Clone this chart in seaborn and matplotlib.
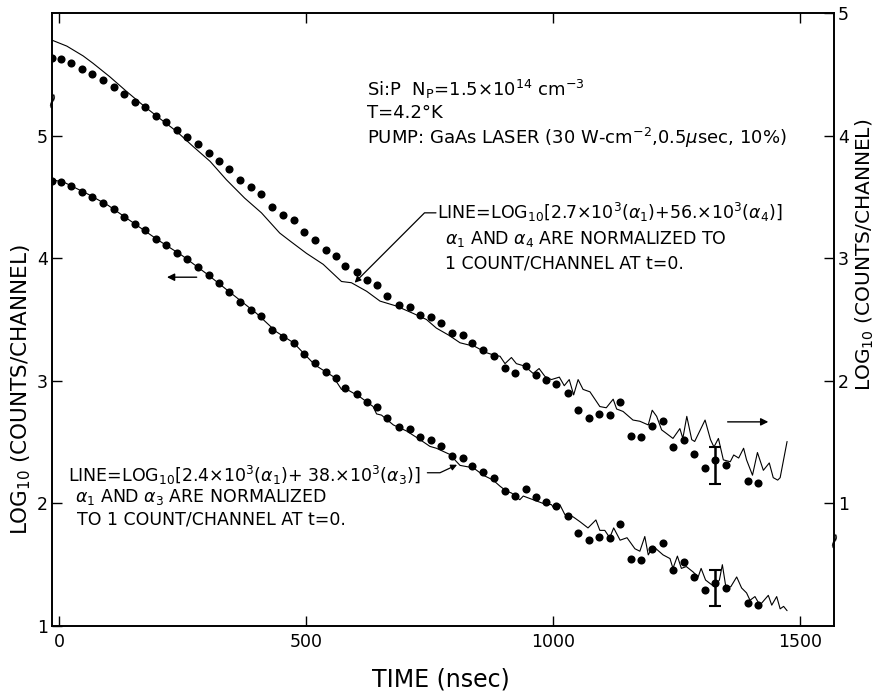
import numpy as np
import pandas as pd
import matplotlib
matplotlib.use("Agg")
import matplotlib.pyplot as plt
import seaborn as sns

# ---------------- data ----------------
# measured points (same data plotted against both axes)
dot_time = [-14, 4, 24, 46, 67, 89, 111, 132, 154, 174, 196, 217, 239, 260, 282,
            304, 325, 345, 367, 389, 410, 432, 453, 475, 496, 518, 540, 560, 580,
            603, 623, 644, 665, 688, 710, 731, 753, 774, 796, 817, 837, 859, 880,
            902, 923, 945, 965, 986, 1007, 1030, 1051, 1073, 1094, 1115, 1136,
            1158, 1179, 1201, 1222, 1243, 1265, 1286, 1308, 1328, 1351, 1394, 1415]
dot_log = [4.63, 4.625, 4.59, 4.54, 4.50, 4.45, 4.40, 4.34, 4.275, 4.23, 4.16,
           4.11, 4.045, 3.99, 3.93, 3.86, 3.795, 3.725, 3.64, 3.58, 3.525, 3.415,
           3.355, 3.31, 3.215, 3.145, 3.07, 3.02, 2.94, 2.89, 2.825, 2.785, 2.695,
           2.62, 2.605, 2.54, 2.52, 2.47, 2.39, 2.37, 2.305, 2.255, 2.205, 2.105,
           2.06, 2.12, 2.05, 2.01, 1.975, 1.90, 1.76, 1.70, 1.73, 1.72, 1.83, 1.55,
           1.54, 1.63, 1.675, 1.46, 1.52, 1.40, 1.29, 1.35, 1.31, 1.185, 1.17]

# fit line alpha1 + alpha4 (right axis)
upper_time = [-15, 16, 49, 69, 103, 137, 171, 204, 238, 272, 306, 339, 376, 410,
              447, 468, 501, 535, 572, 592, 623, 650, 683, 717, 744, 764, 790, 812,
              842, 865, 880, 893, 903, 916, 926, 943, 960, 972, 984, 997, 1013,
              1023, 1033, 1042, 1051, 1061, 1075, 1095, 1108, 1122, 1129, 1142,
              1162, 1176, 1193, 1201, 1210, 1220, 1230, 1243, 1257, 1263, 1271,
              1281, 1287, 1308, 1319, 1326, 1335, 1345, 1359, 1366, 1376, 1386,
              1392, 1404, 1414, 1426, 1438, 1446, 1455, 1460, 1474]
upper_log = [4.78, 4.73, 4.65, 4.59, 4.48, 4.36, 4.245, 4.14, 4.035, 3.91, 3.79,
             3.64, 3.49, 3.37, 3.205, 3.14, 3.04, 2.95, 2.81, 2.80, 2.73, 2.65,
             2.61, 2.55, 2.50, 2.43, 2.37, 2.31, 2.28, 2.23, 2.21, 2.20, 2.14, 2.19,
             2.14, 2.12, 2.06, 2.10, 2.035, 2.01, 2.03, 1.96, 2.01, 1.885, 2.01,
             1.93, 1.91, 1.79, 1.78, 1.85, 1.77, 1.75, 1.68, 1.67, 1.64, 1.76, 1.71,
             1.60, 1.57, 1.53, 1.61, 1.53, 1.71, 1.52, 1.505, 1.68, 1.52, 1.46,
             1.53, 1.355, 1.34, 1.395, 1.37, 1.45, 1.355, 1.23, 1.415, 1.27, 1.33,
             1.21, 1.19, 1.21, 1.505]

# fit line alpha1 + alpha3 (left axis)
lower_time = [-14, 10, 30, 60, 100, 150, 200, 250, 300, 350, 400, 440, 475, 518,
              555, 572, 583, 609, 636, 643, 653, 677, 704, 731, 751, 764, 791, 812,
              839, 859, 879, 893, 906, 916, 933, 940, 960, 980, 997, 1004, 1014,
              1024, 1041, 1055, 1071, 1087, 1095, 1105, 1115, 1123, 1136, 1150,
              1166, 1176, 1186, 1193, 1203, 1223, 1237, 1243, 1252, 1260, 1270,
              1284, 1294, 1300, 1309, 1317, 1327, 1337, 1343, 1350, 1360, 1372,
              1382, 1392, 1399, 1409, 1419, 1436, 1443, 1453, 1460, 1467, 1474]
lower_log = [4.64, 4.62, 4.58, 4.52, 4.43, 4.29, 4.15, 4.02, 3.87, 3.71, 3.55,
             3.40, 3.31, 3.13, 3.035, 2.93, 2.93, 2.87, 2.79, 2.73, 2.72, 2.64,
             2.59, 2.52, 2.465, 2.45, 2.40, 2.31, 2.29, 2.23, 2.19, 2.14, 2.10,
             2.085, 2.03, 2.06, 2.03, 2.00, 1.99, 1.95, 1.99, 1.91, 1.89, 1.85,
             1.80, 1.865, 1.78, 1.78, 1.72, 1.80, 1.70, 1.72, 1.63, 1.61, 1.73,
             1.58, 1.65, 1.58, 1.55, 1.47, 1.57, 1.47, 1.485, 1.44, 1.40, 1.47,
             1.375, 1.35, 1.32, 1.375, 1.50, 1.32, 1.32, 1.40, 1.31, 1.27, 1.21,
             1.24, 1.17, 1.25, 1.17, 1.24, 1.14, 1.16, 1.125]

err_time = [1328]
err_center = [1.31]
err_half = [0.15]

x_ticks = [0, 500, 1000, 1500]
left_ticks = [1, 2, 3, 4, 5]
right_ticks = [1, 2, 3, 4, 5]

# ---------------- style ----------------
sns.set_style("ticks")
plt.rcParams["font.family"] = ["DejaVu Sans"]
plt.rcParams["mathtext.fontset"] = "dejavusans"
for key in ("text.color", "axes.labelcolor", "xtick.color", "ytick.color",
            "axes.edgecolor"):
    plt.rcParams[key] = "black"
plt.rcParams["axes.linewidth"] = 1.2

fig = plt.figure(figsize=(8.78, 6.94), dpi=100)
ax = fig.add_axes([52 / 878, 68 / 694, 782 / 878, 613 / 694])
ax2 = ax.twinx()

dots = pd.DataFrame({"t": dot_time, "v": dot_log})
up = pd.DataFrame({"t": upper_time, "v": upper_log})
lo = pd.DataFrame({"t": lower_time, "v": lower_log})

# lower set: left axis
sns.lineplot(data=lo, x="t", y="v", ax=ax, color="black", lw=0.8,
             estimator=None, sort=False)
sns.scatterplot(data=dots, x="t", y="v", ax=ax, color="black", s=34,
                linewidth=0, zorder=3)
ax.errorbar(err_time, err_center, yerr=err_half, fmt="none", ecolor="black",
            elinewidth=1.8, capsize=4, capthick=1.5, zorder=4)

# upper set: right axis
sns.lineplot(data=up, x="t", y="v", ax=ax2, color="black", lw=0.8,
             estimator=None, sort=False)
sns.scatterplot(data=dots, x="t", y="v", ax=ax2, color="black", s=34,
                linewidth=0, zorder=3)
ax2.errorbar(err_time, err_center, yerr=err_half, fmt="none", ecolor="black",
             elinewidth=1.8, capsize=4, capthick=1.5, zorder=4)

ax.set_xlim(-14, 1569)
ax.set_ylim(1, 6)
ax2.set_ylim(0, 5)

ax.set_xticks(x_ticks)
ax.set_xticklabels([str(v) for v in x_ticks])
ax.set_yticks(left_ticks)
ax.set_yticklabels([str(v) for v in left_ticks])
ax2.set_yticks(right_ticks)
ax2.set_yticklabels([str(v) for v in right_ticks])

ax.tick_params(axis="x", direction="in", length=7, width=1, top=True,
               labelsize=12.5, pad=5)
ax.tick_params(axis="y", direction="in", length=7, width=1, right=False,
               labelsize=12.5, pad=3)
ax2.tick_params(axis="y", direction="in", length=7, width=1, labelsize=12.5, pad=3)

ax.set_xlabel("TIME (nsec)", fontsize=17)
ax.xaxis.set_label_coords(0.497, -0.068)
ax.set_ylabel("LOG$_{10}$ (COUNTS/CHANNEL)", fontsize=15.5)
ax.yaxis.set_label_coords(-0.024, 0.385)
ax2.set_ylabel("LOG$_{10}$ (COUNTS/CHANNEL)", fontsize=14.5)
ax2.yaxis.set_label_coords(1.025, 0.605)

for a in (ax, ax2):
    for s in a.spines.values():
        s.set_linewidth(1.2)
        s.set_color("black")

# break marks on the axes
ax.text(0.0, 0.861, "~", rotation=75, transform=ax.transAxes, ha="center",
        va="center", fontsize=16, clip_on=False)
ax.text(1.0, 0.142, "~", rotation=75, transform=ax.transAxes, ha="center",
        va="center", fontsize=16, clip_on=False)

# text blocks
fs_top = 13
fs = 12.5
ax.text(0.403, 0.876, "Si:P  N$_\\mathrm{P}$=1.5×10$^{14}$ cm$^{-3}$",
        transform=ax.transAxes, fontsize=fs_top, va="center")
ax.text(0.403, 0.837, "T=4.2°K", transform=ax.transAxes, fontsize=fs_top,
        va="center")
ax.text(0.403, 0.796,
        "PUMP: GaAs LASER (30 W-cm$^{-2}$,0.5$\\mu$sec, 10%)",
        transform=ax.transAxes, fontsize=fs_top, va="center")

ax.text(0.492, 0.675,
        "LINE=LOG$_{10}$[2.7×10$^3$($\\alpha_1$)+56.×10$^3$($\\alpha_4$)]",
        transform=ax.transAxes, fontsize=fs, va="center")
ax.text(0.503, 0.631, "$\\alpha_1$ AND $\\alpha_4$ ARE NORMALIZED TO",
        transform=ax.transAxes, fontsize=fs, va="center")
ax.text(0.503, 0.592, "1 COUNT/CHANNEL AT t=0.",
        transform=ax.transAxes, fontsize=fs, va="center")

ax.text(0.020, 0.246,
        "LINE=LOG$_{10}$[2.4×10$^3$($\\alpha_1$)+ 38.×10$^3$($\\alpha_3$)]",
        transform=ax.transAxes, fontsize=fs, va="center")
ax.text(0.029, 0.210, "$\\alpha_1$ AND $\\alpha_3$ ARE NORMALIZED",
        transform=ax.transAxes, fontsize=fs, va="center")
ax.text(0.032, 0.173, "TO 1 COUNT/CHANNEL AT t=0.",
        transform=ax.transAxes, fontsize=fs, va="center")

# leader arrows
arrow_kw = dict(arrowstyle="-|>", color="black", lw=0.9, mutation_scale=9,
                shrinkA=0, shrinkB=0)
ax.annotate("", xy=(0.387, 0.560), xytext=(0.491, 0.674),
            xycoords="axes fraction", textcoords="axes fraction",
            arrowprops=dict(connectionstyle="angle,angleA=0,angleB=45,rad=0",
                            **arrow_kw))
ax.annotate("", xy=(0.518, 0.263), xytext=(0.480, 0.250),
            xycoords="axes fraction", textcoords="axes fraction",
            arrowprops=dict(connectionstyle="angle,angleA=0,angleB=25,rad=0",
                            **arrow_kw))
# axis-indicator arrows
ax.annotate("", xy=(0.147, 0.569), xytext=(0.185, 0.569),
            xycoords="axes fraction", textcoords="axes fraction",
            arrowprops=dict(arrowstyle="-|>", color="black", lw=1.0,
                            mutation_scale=11, shrinkA=0, shrinkB=0))
ax.annotate("", xy=(0.916, 0.333), xytext=(0.864, 0.333),
            xycoords="axes fraction", textcoords="axes fraction",
            arrowprops=dict(arrowstyle="-|>", color="black", lw=1.0,
                            mutation_scale=11, shrinkA=0, shrinkB=0))

fig.savefig("out.png", dpi=100)
